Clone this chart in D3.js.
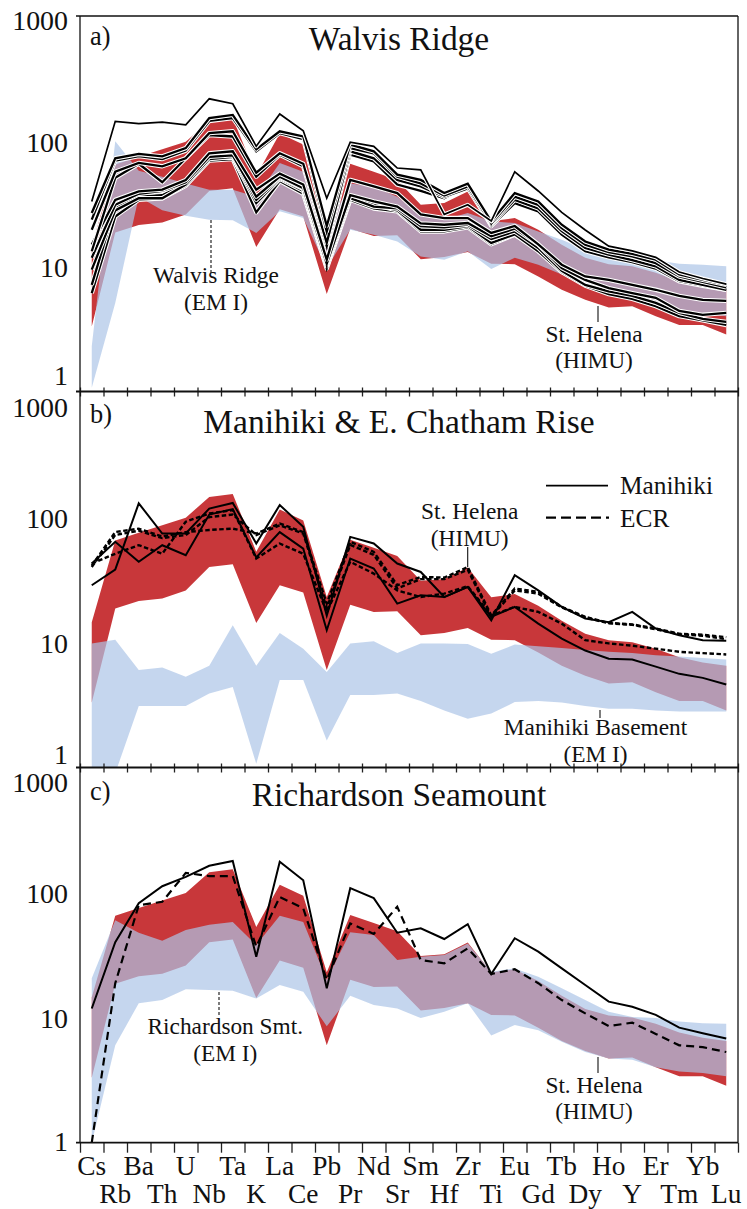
<!DOCTYPE html>
<html>
<head>
<meta charset="utf-8">
<script src="https://cdn.jsdelivr.net/npm/d3@7"></script>
<style>
  body { margin: 0; background: #fff; }
</style>
</head>
<body>
<svg id="chart" width="747" height="1209"></svg>
<script>
// element order on the x axis
const elements = ["Cs","Rb","Ba","Th","U","Nb","Ta","K","La","Ce","Pb","Pr","Nd","Sr","Sm","Hf","Zr","Ti","Eu","Gd","Tb","Dy","Ho","Y","Er","Tm","Yb","Lu"];
const yTicks = [1, 10, 100, 1000];

// St. Helena (HIMU) field, same in all panels
const stHelenaHigh = [14.5, 65, 75, 86, 99, 145, 153, 53, 115, 94, 23, 66, 57, 49, 31, 32, 39.7, 22.9, 24.3, 19.6, 14.9, 11.7, 10.4, 10, 8.9, 7.6, 6.9, 6.5];
const stHelenaLow = [3.3, 18.6, 21.4, 22.4, 26, 40, 42, 14.3, 28.6, 25, 6, 20, 17.5, 17.7, 11.4, 11.9, 13, 10.5, 10.4, 8.3, 6.5, 5.4, 4.7, 4.8, 4.0, 3.4, 3.4, 2.85];

// EM I fields
const walvisHigh = [2.3, 100, 58, 52, 46, 41, 41, 36, 67, 57, 20, 46, 43.5, 36, 25.9, 23.6, 26.7, 22.9, 22.2, 19, 16.3, 13.6, 11.9, 11.3, 11.2, 10.5, 10.3, 10];
const walvisLow = [1.07, 5.1, 36, 28, 25.4, 23.6, 23.3, 18.5, 27.5, 24.3, 9.7, 19.6, 17.9, 15.8, 12, 11.3, 13.2, 9.5, 11.7, 10.3, 8.6, 7.1, 6.1, 5.8, 5.1, 4.5, 4.2, 4.0];
const manihikiBaseHigh = [9.8, 10.5, 6.0, 6.3, 5.3, 6.5, 13.7, 6.5, 11.9, 8.9, 5.8, 9.8, 10.2, 8.2, 9.8, 9.8, 9.7, 8.1, 9.6, 9.3, 9.0, 8.7, 8.4, 8.2, 7.9, 7.7, 7.5, 7.3];
const manihikiBaseLow = [1.0, 0.9, 3.1, 3.1, 3.1, 3.9, 4.4, 1.07, 5.0, 5.0, 1.64, 3.8, 3.8, 3.9, 3.4, 2.86, 2.45, 2.7, 3.33, 3.4, 3.3, 3.1, 2.95, 2.95, 2.86, 2.8, 2.8, 2.8];
const richardsonHigh = [20.6, 60, 47.6, 41, 50, 55, 58, 38, 65, 58, 20, 48, 45.6, 28.8, 30.6, 31.6, 39, 23.2, 24.7, 21.2, 17.1, 13.8, 11.1, 10.1, 9.9, 9.3, 9.0, 8.9];
const richardsonLow = [1.0, 6, 13, 13.8, 16.8, 16.6, 16.4, 14.2, 18.2, 16.1, 8.5, 14.9, 12.6, 11.8, 9.9, 11.1, 13, 7.2, 8.7, 7.9, 6.4, 5.3, 4.7, 4.6, 4.0, 3.7, 3.6, 3.4];

// Walvis Ridge samples
const walvisSamples = [
  [6.1, 25, 34, 35, 44, 70, 72, 27, 48, 38, 9.6, 34, 29, 27.5, 19, 19, 20.5, 15, 17.9, 13.5, 9.4, 7.2, 6.1, 5.6, 4.9, 4.1, 3.75, 3.5],
  [7.1, 30, 36, 37, 46, 73, 74, 32, 50, 40, 10, 36, 31, 28, 19.6, 19.6, 21, 15.4, 18, 13.2, 9.0, 7.0, 6.0, 5.5, 4.8, 4.0, 3.7, 3.4],
  [9.4, 28, 35, 35, 45, 72, 75, 34, 51, 41.5, 10.2, 35, 30, 29, 21, 20.5, 21.5, 16.5, 19, 14, 9.2, 7.1, 6.3, 5.8, 5.1, 4.25, 3.8, 3.6],
  [11.7, 31, 38, 40, 47, 75, 77, 36, 52, 42, 10.5, 37, 33, 30, 22, 21.5, 22.2, 17.4, 20, 14.9, 9.7, 7.8, 6.7, 6.1, 5.6, 4.4, 4.1, 4.25],
  [14.9, 34, 39.7, 41, 49, 80, 83, 41, 55, 45, 11.3, 49, 43.5, 38.5, 26, 24.3, 24.3, 18.5, 21, 15, 10.3, 8.3, 7.8, 7.1, 6.5, 5.8, 5.4, 5.3],
  [13.2, 51, 66, 47, 73, 112, 109, 52, 78, 63, 14.5, 78, 69, 45, 40, 35, 44, 21, 32, 27.5, 17.9, 13.2, 11.8, 10.8, 9.6, 7.6, 7.0, 6.5],
  [19.6, 57, 67, 63, 73, 116, 120, 56, 80, 66, 15.4, 83, 73, 49, 43.5, 36, 42, 21.5, 34, 29, 19.1, 14, 12.4, 11.2, 10, 7.8, 7.1, 6.5],
  [23.6, 70, 76, 72, 84, 145, 153, 83, 116, 104, 19, 88, 80, 52, 46, 36.8, 43.5, 22, 36, 31, 20.2, 14.9, 13, 12, 10.6, 8.3, 7.5, 6.8],
  [26.7, 73, 79, 75.5, 88, 153, 162, 86, 120, 109, 21, 94, 83, 54, 49, 38.5, 45.7, 22.9, 38.5, 33, 21.5, 15.8, 13.6, 12.6, 11.3, 8.6, 7.8, 7.1],
  [33, 144, 138, 142, 135, 218, 199, 91, 165, 121, 35, 98, 91, 61, 59, 26, 31, 23, 57, 40, 27, 19.5, 14.5, 13.3, 11.8, 9.0, 8.0, 7.2]
];

// Manihiki and ECR samples
const manihikiSamples = [
  [28.6, 38.1, 129, 74, 74, 117, 130, 61.6, 125, 83.7, 16.4, 69.6, 61.6, 42.6, 36.5, 23, 27.7, 15, 34.4, 26, 19.2, 15.5, 14.5, 17.5, 12.9, 11.4, 10.4, 10.3],
  [42.6, 63.5, 44, 59.7, 49.7, 105, 116, 47.6, 76, 56, 12.5, 46.7, 38.9, 20.4, 23.8, 23, 27.7, 16, 19.2, 14.1, 10.7, 8.6, 7.4, 7.3, 6.4, 5.6, 5.2, 4.6]
];
const ecrSamples = [
  [41, 76, 81, 70, 76, 79, 81, 74, 89, 76, 20.4, 63.5, 52.8, 28.6, 33.3, 32.9, 39.9, 16.4, 26.9, 25.3, 19.2, 16, 14.3, 13.9, 12.9, 11.7, 11.5, 11],
  [42.6, 51, 59.7, 51, 92, 107, 114, 46.7, 61.6, 51, 17.5, 44, 35.4, 26, 23, 24.5, 28.1, 16.4, 19.2, 17.5, 14.1, 10.4, 9.8, 9.4, 8.9, 8.4, 8.2, 8.0],
  [40, 72, 78, 68, 72, 100, 105, 72, 86, 74, 18.8, 60, 50, 27, 32, 32, 38, 16, 26, 24.5, 19, 15.8, 14.2, 13.8, 12.7, 11.6, 11.3, 10.6]
];

// Richardson Seamount samples
const richardsonSolid = [11.8, 40, 82, 112, 133, 163, 178, 30.6, 176, 125, 17.1, 108, 90, 47.6, 51.6, 42.4, 55.8, 22.3, 43, 33.6, 24.7, 18.2, 13.4, 12.2, 10.5, 8.3, 7.5, 6.8];
const richardsonDashed = [1.0, 18.8, 79, 84, 143, 135, 135, 36.8, 92, 74.5, 20, 56.5, 46.5, 76.7, 28.8, 27.1, 35.7, 22.3, 24.3, 18.8, 13.8, 10.8, 8.55, 9.1, 7.4, 6.0, 5.8, 5.3];

const FONT = "'Liberation Serif', 'DejaVu Serif', serif";
const svg = d3.select("#chart");
const plotLeft = 80, plotRight = 738, panelH = 375.5;
const red = "#c8373a", blue = "rgb(172,196,231)";

// scale font sizes so that text widths match a Times-like face
const probe = svg.append("text").attr("font-family", FONT).attr("font-size", 100).text("Walvis Ridge");
const fk = 547 / probe.node().getComputedTextLength();
probe.remove();
const fs = s => s * fk;

const x = d3.scaleBand().domain(elements).range([plotLeft, plotRight]);
const cx = i => x(elements[i]) + x.bandwidth() / 2;
const edge = d3.scaleLinear().domain([0, elements.length]).range([plotLeft, plotRight]);

function label(g, xp, yp, size, t, anchor) {
    return g.append("text").attr("x", xp).attr("y", yp)
        .attr("font-family", FONT).attr("font-size", fs(size)).attr("fill", "#111")
        .attr("text-anchor", anchor || "start").text(t);
}

function drawPanel(top, letter, opts) {
    const bottom = top + panelH;
    const y = d3.scaleLog().domain([1, 1000]).range([bottom, top]);
    const g = svg.append("g");

    svg.append("clipPath").attr("id", "clip-" + letter)
        .append("rect")
        .attr("x", plotLeft).attr("y", top)
        .attr("width", plotRight - plotLeft).attr("height", panelH);

    const plot = g.append("g").attr("clip-path", `url(#clip-${letter})`);
    const band = d3.area().x((d, i) => cx(i)).y0(d => y(d[0])).y1(d => y(d[1]));

    plot.append("path").datum(d3.zip(stHelenaLow, stHelenaHigh))
        .attr("d", band).attr("fill", red);
    plot.append("path").datum(d3.zip(opts.low, opts.high))
        .attr("d", band).attr("fill", blue).attr("fill-opacity", 0.7);

    const line = d3.line().x((d, i) => cx(i)).y(d => y(d));

    // y axis labels
    const ya = g.append("g")
        .attr("transform", `translate(${plotLeft},0)`)
        .call(d3.axisLeft(y).tickValues(yTicks).tickFormat(d3.format("d")).tickSize(0).tickPadding(12));
    ya.attr("font-family", FONT).attr("font-size", fs(27.5));
    ya.select(".domain").remove();
    ya.selectAll("text").attr("dy", null).attr("fill", "#111")
        .attr("y", d => d === 1000 ? opts.topLabelDy : d === 1 ? opts.bottomLabelDy : 10);

    // bottom tick marks at element boundaries
    const ta = g.append("g")
        .attr("transform", `translate(0,${bottom})`)
        .call(d3.axisBottom(edge).tickValues(d3.range(0, elements.length + 1)).tickFormat("").tickSizeOuter(0));
    ta.select(".domain").remove();
    ta.selectAll("line").attr("stroke", "#222").attr("stroke-width", 1.3)
        .attr("y1", opts.last ? 0 : -4).attr("y2", opts.last ? 10 : 5);

    // frame
    g.append("line").attr("x1", plotLeft).attr("x2", plotLeft).attr("y1", top).attr("y2", bottom)
        .attr("stroke", "#111").attr("stroke-width", 1.3);
    g.append("line").attr("x1", plotRight).attr("x2", plotRight).attr("y1", top).attr("y2", bottom)
        .attr("stroke", "#111").attr("stroke-width", 1.3);
    g.append("line").attr("x1", plotLeft - 4).attr("x2", plotRight).attr("y1", bottom).attr("y2", bottom)
        .attr("stroke", "#111").attr("stroke-width", 1.8);
    if (opts.first) {
        g.append("line").attr("x1", plotLeft - 4).attr("x2", plotRight).attr("y1", top).attr("y2", top)
            .attr("stroke", "#111").attr("stroke-width", 1.5);
    }

    // title and panel letter
    label(g, 399, top + opts.titleDy, 33, opts.title, "middle");
    label(g, 90, top + opts.letterDy, 26, letter + ")");

    return {g, plot, y, line, bottom};
}

function note(g, cxp, y1, lines, pointer) {
    lines.forEach((t, i) => label(g, cxp, y1 + i * 26.5, 23, t, "middle"));
    g.append("line")
        .attr("x1", pointer.x).attr("x2", pointer.x)
        .attr("y1", pointer.y1).attr("y2", pointer.y2)
        .attr("stroke", "#111").attr("stroke-width", 1.1)
        .attr("stroke-dasharray", pointer.dashed ? "3,2" : null);
}

// Panel a: Walvis Ridge
const pa = drawPanel(16, "a", {
    title: "Walvis Ridge", low: walvisLow, high: walvisHigh,
    first: true, titleDy: 34, letterDy: 29, topLabelDy: 13.3, bottomLabelDy: -7
});
walvisSamples.forEach((s, i) => {
    const top = i === walvisSamples.length - 1;
    pa.plot.append("path").datum(s).attr("d", pa.line)
        .attr("fill", "none").attr("stroke", "#fff").attr("stroke-width", top ? 4 : 4.4)
        .attr("stroke-linejoin", "round");
    pa.plot.append("path").datum(s).attr("d", pa.line)
        .attr("fill", "none").attr("stroke", "#000").attr("stroke-width", top ? 1.7 : 2.3);
});
note(pa.g, 216, 283, ["Walvis Ridge", "(EM I)"], {x: 211, y1: 220, y2: 273, dashed: true});
note(pa.g, 594, 341.7, ["St. Helena", "(HIMU)"], {x: 598, y1: 306, y2: 322});

// Panel b: Manihiki & E. Chatham Rise
const pb = drawPanel(392, "b", {
    title: "Manihiki & E. Chatham Rise", low: manihikiBaseLow, high: manihikiBaseHigh,
    titleDy: 41, letterDy: 31, topLabelDy: 24.7, bottomLabelDy: -3.7
});
ecrSamples.forEach(s => {
    pb.plot.append("path").datum(s).attr("d", pb.line)
        .attr("fill", "none").attr("stroke", "#000").attr("stroke-width", 2.4)
        .attr("stroke-dasharray", "4.5,2.5");
});
manihikiSamples.forEach(s => {
    pb.plot.append("path").datum(s).attr("d", pb.line)
        .attr("fill", "none").attr("stroke", "#000").attr("stroke-width", 2);
});
note(pb.g, 469.7, 519.3, ["St. Helena", "(HIMU)"], {x: 467.7, y1: 547, y2: 567});
note(pb.g, 595.5, 735, ["Manihiki Basement", "(EM I)"], {x: 600, y1: 710, y2: 718});

// legend
const legend = pb.g.append("g");
legend.append("line").attr("x1", 546).attr("x2", 608).attr("y1", 485.7).attr("y2", 485.7)
    .attr("stroke", "#000").attr("stroke-width", 1.8);
label(legend, 620, 494, 25, "Manihiki");
legend.append("line").attr("x1", 546).attr("x2", 609).attr("y1", 517.7).attr("y2", 517.7)
    .attr("stroke", "#000").attr("stroke-width", 2.2).attr("stroke-dasharray", "10,5");
label(legend, 620, 526.5, 25, "ECR");

// Panel c: Richardson Seamount
const pc = drawPanel(767.2, "c", {
    title: "Richardson Seamount", low: richardsonLow, high: richardsonHigh,
    last: true, titleDy: 39, letterDy: 33, topLabelDy: 24.7, bottomLabelDy: 7.3
});
pc.plot.append("path").datum(richardsonDashed).attr("d", pc.line)
    .attr("fill", "none").attr("stroke", "#000").attr("stroke-width", 2.2)
    .attr("stroke-dasharray", "8,5");
pc.plot.append("path").datum(richardsonSolid).attr("d", pc.line)
    .attr("fill", "none").attr("stroke", "#000").attr("stroke-width", 2);
note(pc.g, 225.3, 1034, ["Richardson Smt.", "(EM I)"], {x: 219, y1: 992, y2: 1017, dashed: true});
note(pc.g, 594, 1092.7, ["St. Helena", "(HIMU)"], {x: 598, y1: 1057, y2: 1073});

// element labels in two rows
const xa = pc.g.append("g")
    .attr("transform", `translate(0,${pc.bottom})`)
    .call(d3.axisBottom(x).tickSize(0).tickPadding(0));
xa.attr("font-family", FONT).attr("font-size", fs(27));
xa.select(".domain").remove();
xa.selectAll("text").attr("dy", null).attr("fill", "#111")
    .attr("y", (d, i) => i % 2 ? 60.5 : 32.5);
</script>
</body>
</html>
